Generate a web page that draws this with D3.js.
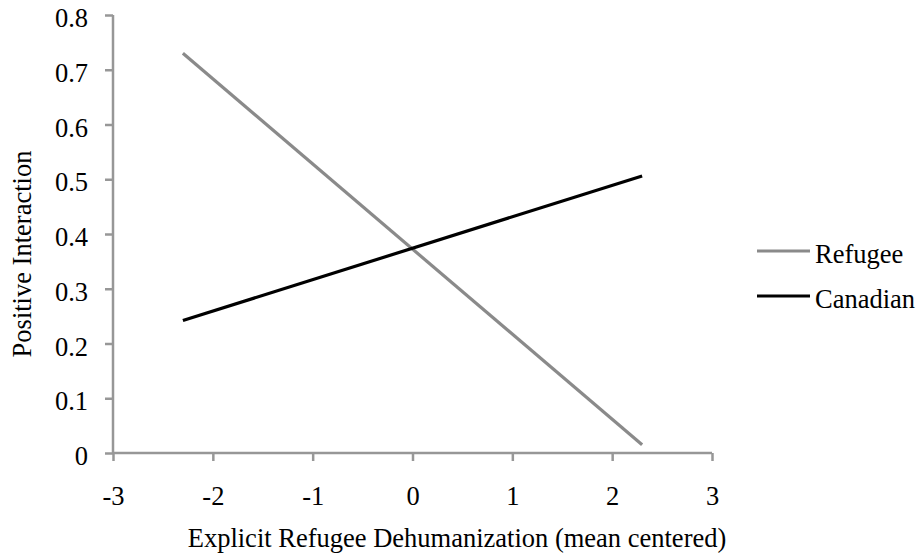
<!DOCTYPE html>
<html>
<head>
<meta charset="utf-8">
<script src="https://cdn.jsdelivr.net/npm/d3@7"></script>
<style>
  body { margin: 0; background: #fff; }
  text { font-family: "Liberation Serif", "Times New Roman", serif; fill: #000; }
</style>
</head>
<body>
<svg id="chart" width="916" height="557"></svg>
<script>
// data
var seriesNames = ["Refugee", "Canadian"];
var xValues = [-2.3, 2.3];
var refugeeValues = [0.73, 0.015];
var canadianValues = [0.242, 0.506];
var xTicks = [-3, -2, -1, 0, 1, 2, 3];
var yTicks = [0, 0.1, 0.2, 0.3, 0.4, 0.5, 0.6, 0.7, 0.8];

var svg = d3.select("#chart");
var axisColor = "#979797";
var colors = { Refugee: "#8a8a8a", Canadian: "#000" };
var fontSize = "26.5px";
var serif = "'Liberation Serif', 'Times New Roman', serif";

var x = d3.scaleLinear().domain([-3, 3]).range([113, 712]);
var y = d3.scaleLinear().domain([0, 0.8]).range([453, 15]);

// y axis
var yAxis = svg.append("g").attr("transform", "translate(113,0)")
    .call(d3.axisLeft(y).tickValues(yTicks).tickSize(8).tickPadding(17)
        .tickFormat(function(d) { return d === 0 ? "0" : d3.format(".1f")(d); }));

// x axis (plain hyphen for negatives, like the original)
var xAxis = svg.append("g").attr("transform", "translate(0,453)")
    .call(d3.axisBottom(x).tickValues(xTicks).tickSize(8)
        .tickFormat(function(d) { return String(d); }));

[yAxis, xAxis].forEach(function(a) {
    a.attr("font-family", serif).attr("font-size", null);
    a.select(".domain").attr("stroke", axisColor).attr("stroke-width", 2.5);
    a.selectAll(".tick line").attr("stroke", axisColor).attr("stroke-width", 2.5);
    a.selectAll(".tick text")
        .style("font-family", serif)
        .style("font-size", fontSize)
        .attr("fill", "#000");
});
yAxis.selectAll(".tick text").attr("dy", "0.44em");
xAxis.selectAll(".tick text").attr("y", 33).attr("dy", "0.71em");
xAxis.select(".domain").attr("d", "M" + x(-3) + ",0H" + x(3));
yAxis.select(".domain").attr("d", "M0," + y(0.8) + "V" + y(0));

var series = [
    { name: "Refugee", values: refugeeValues },
    { name: "Canadian", values: canadianValues }
];

var line = d3.line()
    .x(function(d) { return x(d[0]); })
    .y(function(d) { return y(d[1]); });

svg.selectAll(".series").data(series).enter().append("path")
    .attr("class", "series")
    .attr("fill", "none")
    .attr("stroke", function(d) { return colors[d.name]; })
    .attr("stroke-width", 3.2)
    .attr("d", function(d) { return line(xValues.map(function(xv, i) { return [xv, d.values[i]]; })); });

// axis titles
svg.append("text")
    .attr("x", 457).attr("y", 547)
    .attr("text-anchor", "middle")
    .style("font-size", fontSize)
    .text("Explicit Refugee Dehumanization (mean centered)");

svg.append("text")
    .attr("transform", "translate(31,254) rotate(-90)")
    .attr("text-anchor", "middle")
    .style("font-size", fontSize)
    .text("Positive Interaction");

// legend
var legend = svg.selectAll(".legend").data(seriesNames).enter().append("g")
    .attr("class", "legend")
    .attr("transform", function(d, i) { return "translate(757," + (251 + i * 45) + ")"; });
legend.append("line")
    .attr("x1", 0).attr("x2", 53)
    .attr("stroke", function(d) { return colors[d]; })
    .attr("stroke-width", 3.2);
legend.append("text")
    .attr("x", 58).attr("dy", "0.46em")
    .style("font-size", fontSize)
    .text(function(d) { return d; });
</script>
</body>
</html>
